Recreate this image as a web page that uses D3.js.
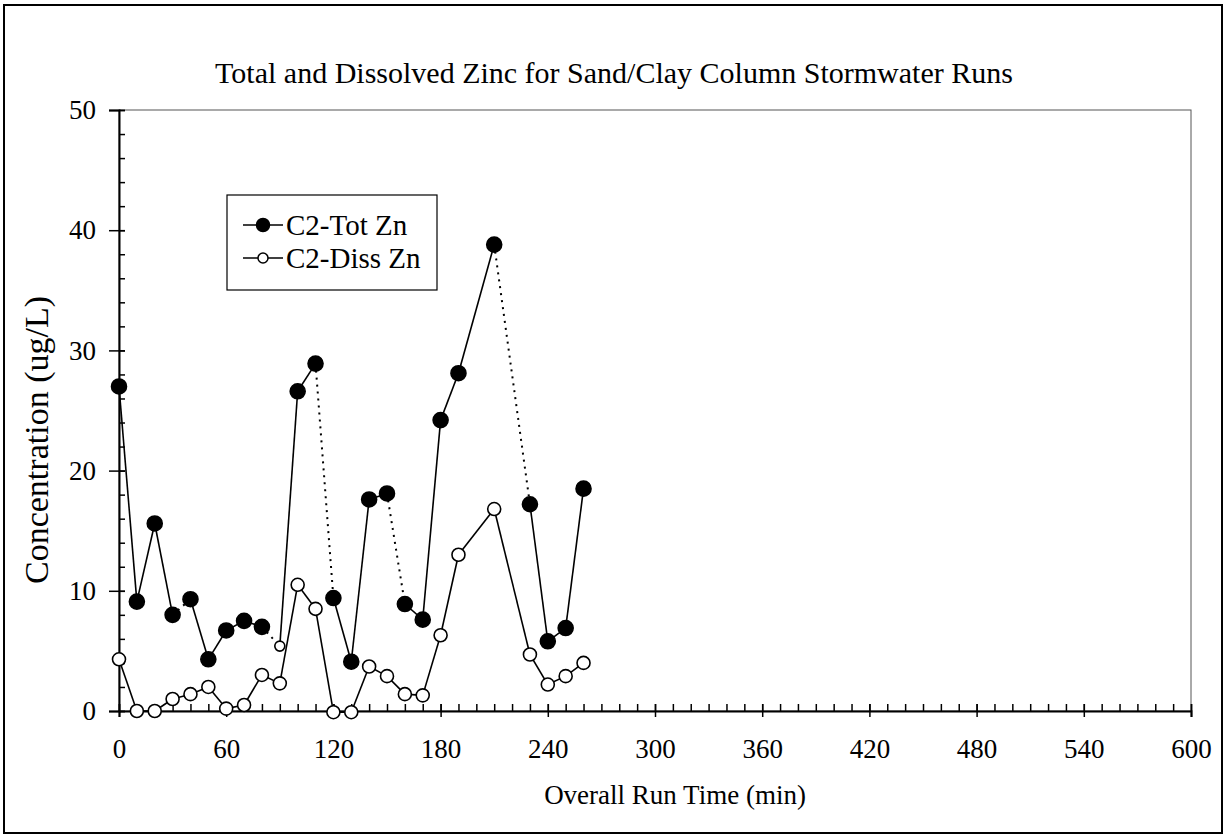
<!DOCTYPE html>
<html>
<head>
<meta charset="utf-8">
<script src="https://cdn.jsdelivr.net/npm/d3@7"></script>
<style>
  body { margin: 0; background: #fff; }
  svg { display: block; }
</style>
</head>
<body>
<svg width="1228" height="840"></svg>
<script>
// run times (min) and concentrations (ug/L)
var times   = [0, 10, 20, 30, 40, 50, 60, 70, 80, 90, 100, 110, 120, 130, 140, 150, 160, 170, 180, 190, 210, 230, 240, 250, 260];
var totZn   = [27.0, 9.1, 15.6, 8.0, 9.3, 4.3, 6.7, 7.5, 7.0, 5.4, 26.6, 28.9, 9.4, 4.1, 17.6, 18.1, 8.9, 7.6, 24.2, 28.1, 38.8, 17.2, 5.8, 6.9, 18.5];
var dissZn  = [4.3, 0.0, 0.0, 1.0, 1.4, 2.0, 0.2, 0.5, 3.0, 2.3, 10.5, 8.5, -0.1, -0.1, 3.7, 2.9, 1.4, 1.3, 6.3, 13.0, 16.8, 4.7, 2.2, 2.9, 4.0];
// segments of the total series drawn dotted (start time of the segment)
var totDotted = [30, 80, 110, 150, 210];
var xTicks = [0, 60, 120, 180, 240, 300, 360, 420, 480, 540, 600];
var yTicks = [0, 10, 20, 30, 40, 50];
var seriesNames = ["C2-Tot Zn", "C2-Diss Zn"];

var serif = "'Liberation Serif', 'Times New Roman', serif";

var svg = d3.select("svg"),
    margin = {top: 110, right: 37, bottom: 129, left: 119},
    width = +svg.attr("width") - margin.left - margin.right,
    height = +svg.attr("height") - margin.top - margin.bottom;

// outer border
svg.append("rect")
    .attr("x", 4).attr("y", 5)
    .attr("width", 1218).attr("height", 828)
    .attr("fill", "none")
    .attr("stroke", "#000")
    .attr("stroke-width", 2);

svg.append("text")
    .attr("x", 614)
    .attr("y", 72)
    .attr("dy", "0.35em")
    .attr("text-anchor", "middle")
    .attr("font-family", serif)
    .style("font-family", serif)
    .style("font-size", "30px")
    .text("Total and Dissolved Zinc for Sand/Clay Column Stormwater Runs");

var g = svg.append("g").attr("transform", "translate(" + margin.left + "," + margin.top + ")");

var x = d3.scaleLinear().domain([0, 600]).range([0, width]);
var y = d3.scaleLinear().domain([0, 50]).range([height, 0]);

// plot frame
g.append("rect")
    .attr("width", width).attr("height", height)
    .attr("fill", "none")
    .attr("stroke", "#555")
    .attr("stroke-width", 1);

// minor ticks
g.append("g")
    .attr("transform", "translate(0," + height + ")")
    .call(d3.axisBottom(x).tickValues(d3.range(0, 601, 10)).tickSize(-7).tickFormat(""))
    .call(function (s) { s.select(".domain").remove(); });
g.append("g")
    .call(d3.axisLeft(y).tickValues(d3.range(0, 51, 2)).tickSize(-6).tickFormat(""))
    .call(function (s) { s.select(".domain").remove(); });

// major ticks (cross the axis)
var xAxis = g.append("g")
    .attr("transform", "translate(0," + height + ")")
    .call(d3.axisBottom(x).tickValues(xTicks).tickSize(6).tickPadding(22));
xAxis.selectAll(".tick").append("line").attr("y2", -7).attr("stroke", "#000");
var yAxis = g.append("g")
    .call(d3.axisLeft(y).tickValues(yTicks).tickSize(10).tickPadding(13));
yAxis.selectAll(".tick").append("line").attr("x2", 6).attr("stroke", "#000");

g.selectAll(".domain").attr("stroke", "#000").attr("stroke-width", 2);
g.selectAll(".tick line").attr("stroke-width", 1.5);
g.selectAll(".tick text").style("font-size", "27px").style("font-family", serif);

g.append("text")
    .attr("x", width / 2 + 20)
    .attr("y", height + 93)
    .attr("text-anchor", "middle")
    .style("font-family", serif)
    .style("font-size", "27px")
    .text("Overall Run Time (min)");

g.append("text")
    .attr("transform", "rotate(-90)")
    .attr("x", -330)
    .attr("y", -71)
    .attr("text-anchor", "middle")
    .style("font-family", serif)
    .style("font-size", "34px")
    .text("Concentration (ug/L)");

// segments
var segs = function (vals) {
  return d3.range(times.length - 1).map(function (i) {
    return {t0: times[i], v0: vals[i], t1: times[i + 1], v1: vals[i + 1]};
  });
};

g.selectAll(".tot-seg")
  .data(segs(totZn))
  .enter().append("line")
    .attr("class", "tot-seg")
    .attr("x1", function (d) { return x(d.t0); })
    .attr("y1", function (d) { return y(d.v0); })
    .attr("x2", function (d) { return x(d.t1); })
    .attr("y2", function (d) { return y(d.v1); })
    .attr("stroke", "#000")
    .attr("stroke-width", function (d) { return totDotted.indexOf(d.t0) >= 0 ? 2 : 1.6; })
    .attr("stroke-dasharray", function (d) { return totDotted.indexOf(d.t0) >= 0 ? "2,5" : null; });

g.selectAll(".diss-seg")
  .data(segs(dissZn))
  .enter().append("line")
    .attr("class", "diss-seg")
    .attr("x1", function (d) { return x(d.t0); })
    .attr("y1", function (d) { return y(d.v0); })
    .attr("x2", function (d) { return x(d.t1); })
    .attr("y2", function (d) { return y(d.v1); })
    .attr("stroke", "#000")
    .attr("stroke-width", 1.6);

g.selectAll(".diss-pt")
  .data(times)
  .enter().append("circle")
    .attr("class", "diss-pt")
    .attr("cx", function (d) { return x(d); })
    .attr("cy", function (d, i) { return y(dissZn[i]); })
    .attr("r", 6.5)
    .attr("fill", "#fff")
    .attr("stroke", "#000")
    .attr("stroke-width", 1.6);

g.selectAll(".tot-pt")
  .data(times)
  .enter().append("circle")
    .attr("class", "tot-pt")
    .attr("cx", function (d) { return x(d); })
    .attr("cy", function (d, i) { return y(totZn[i]); })
    .attr("r", function (d) { return d === 90 ? 5 : 7.5; })
    .attr("fill", function (d) { return d === 90 ? "#fff" : "#000"; })
    .attr("stroke", "#000")
    .attr("stroke-width", 1.6);

// legend
var lg = g.append("g").attr("transform", "translate(108,85)");
lg.append("rect")
    .attr("width", 210).attr("height", 95)
    .attr("fill", "#fff")
    .attr("stroke", "#000")
    .attr("stroke-width", 1.2);
var item = lg.selectAll(".item")
  .data(seriesNames)
  .enter().append("g")
    .attr("class", "item")
    .attr("transform", function (d, i) { return "translate(16," + (30 + i * 33) + ")"; });
item.append("line").attr("x1", 0).attr("x2", 40).attr("stroke", "#000").attr("stroke-width", 1.6);
item.append("circle")
    .attr("cx", 20).attr("r", function (d, i) { return i === 0 ? 6.5 : 5; })
    .attr("fill", function (d, i) { return i === 0 ? "#000" : "#fff"; })
    .attr("stroke", "#000").attr("stroke-width", 1.5);
item.append("text")
    .attr("x", 43).attr("dy", "0.35em")
    .style("font-family", serif)
    .style("font-size", "29px")
    .text(function (d) { return d; });
</script>
</body>
</html>
